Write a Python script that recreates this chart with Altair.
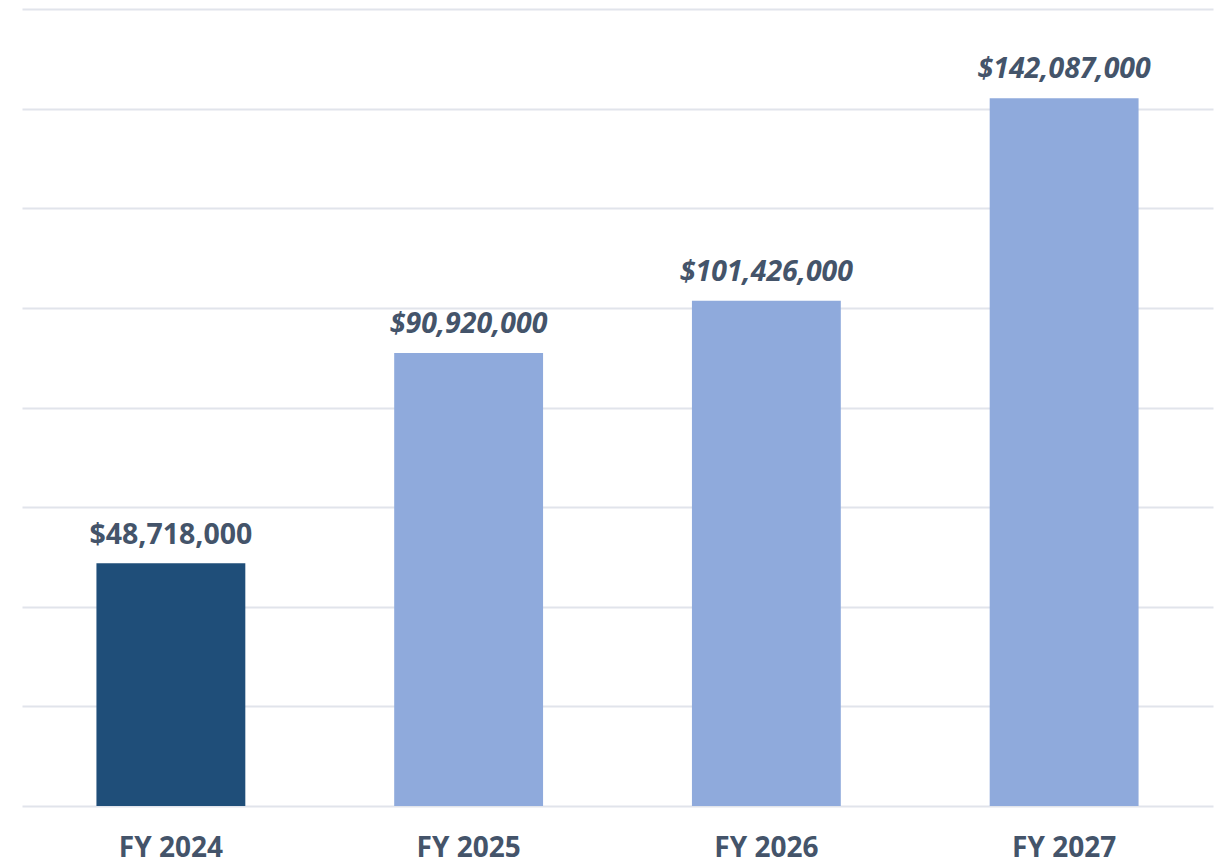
import altair as alt
import pandas as pd

years = ["FY 2024", "FY 2025", "FY 2026", "FY 2027"]
values = [48718000, 90920000, 101426000, 142087000]
kinds = ["Actual", "Projected", "Projected", "Projected"]
labels = ["$48,718,000", "$90,920,000", "$101,426,000", "$142,087,000"]
grid_values = [0, 20e6, 40e6, 60e6, 80e6, 100e6, 120e6, 140e6, 160e6]

df = pd.DataFrame({"year": years, "value": values, "kind": kinds, "label": labels})

FONT = "Open Sans"
TXT = "#44546A"

x = alt.X("year:N", sort=years, title=None,
          scale=alt.Scale(paddingInner=0.5, paddingOuter=0.25),
          axis=alt.Axis(labelAngle=0, labelFont=FONT, labelFontWeight="bold",
                        labelFontSize=28, labelColor=TXT, ticks=False, domain=False,
                        labelPadding=28))
y = alt.Y("value:Q", title=None,
          scale=alt.Scale(domain=[0, 160e6], nice=False),
          axis=alt.Axis(values=grid_values, labels=False, ticks=False, domain=False,
                        gridColor="#E1E4EB", gridWidth=2))

bars = alt.Chart(df).mark_bar().encode(
    x=x, y=y,
    color=alt.Color("kind:N", legend=None,
                    scale=alt.Scale(domain=["Actual", "Projected"], range=["#1F4E79", "#8FAADC"])),
)

actual_txt = alt.Chart(df).transform_filter(alt.datum.kind == "Actual").mark_text(
    font=FONT, fontWeight="bold", fontSize=28.5, color=TXT, baseline="alphabetic", dy=-19
).encode(x=x, y=y, text="label:N")

proj_txt = alt.Chart(df).transform_filter(alt.datum.kind == "Projected").mark_text(
    font=FONT, fontWeight="bold", fontStyle="italic", fontSize=28.5, color=TXT,
    baseline="alphabetic", dy=-20
).encode(x=x, y=y, text="label:N")

chart = alt.layer(bars, actual_txt, proj_txt).properties(
    width=1191, height=797,
    padding={"left": 14, "top": 1, "right": 2, "bottom": 0},
).configure_view(stroke=None)

chart.save("out.html", embed_options={"renderer": "svg", "actions": False})
